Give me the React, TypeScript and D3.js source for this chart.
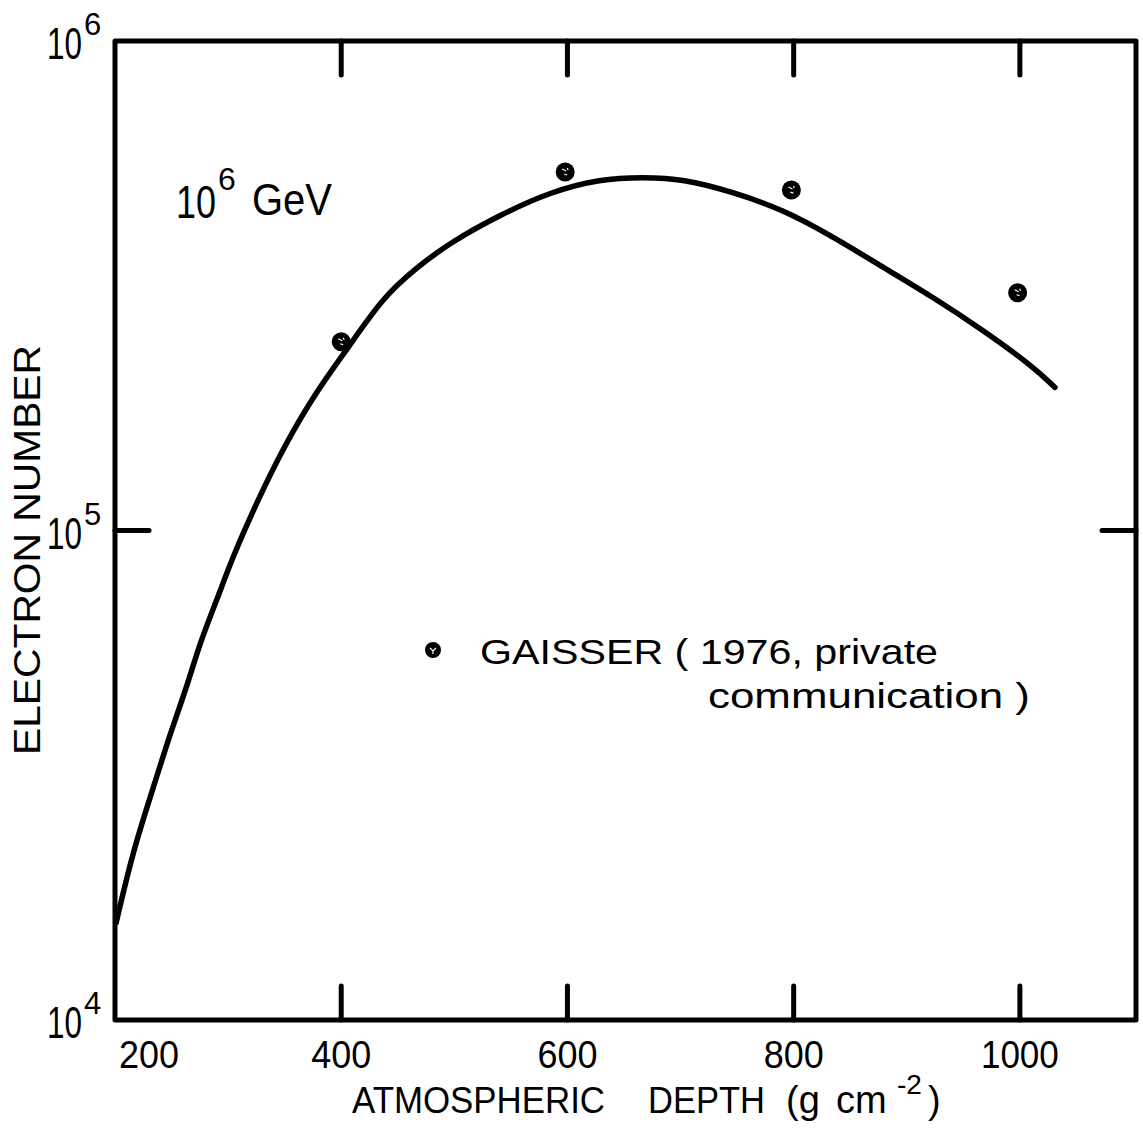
import React from "react";
import * as d3 from "d3";

// Curve: atmospheric depth (g cm^-2) vs electron number
const curveDepth = [201, 216, 234, 249, 264, 275, 290, 304, 326, 349, 379, 405, 437, 467, 496, 540, 585, 629, 667, 702, 746, 791, 835, 879, 923, 967, 1012, 1031];
const curveN = [1.58e4, 2.22e4, 2.99e4, 3.86e4, 4.83e4, 5.89e4, 7.21e4, 8.83e4, 1.15e5, 1.48e5, 1.94e5, 2.34e5, 3.0e5, 3.45e5, 3.87e5, 4.41e5, 4.92e5, 5.23e5, 5.27e5, 5.23e5, 4.92e5, 4.52e5, 3.98e5, 3.45e5, 3.0e5, 2.57e5, 2.16e5, 1.96e5];

// Gaisser points
const pointDepth = [400, 598, 798, 998];
const pointN = [2.43e5, 5.4e5, 4.96e5, 3.06e5];

const xTicks = [200, 400, 600, 800, 1000];
const xInnerTicks = [400, 600, 800, 1000];
const yTicks = [1e4, 1e5, 1e6];
const yTickExp = ["4", "5", "6"];

const FONT = "'Liberation Sans', Arial, sans-serif";

export default function App() {
  const W = 1143, H = 1128;
  const x = d3.scaleLinear().domain([200, 1100]).range([115, 1133]);
  const y = d3.scaleLog().domain([1e4, 1e6]).range([1020, 41]);
  const x0 = x(200), x1 = 1136, yTop = y(1e6), yBot = y(1e4);

  const data = curveDepth.map((d, i) => [d, curveN[i]] as [number, number]);
  const line = d3
    .line<[number, number]>()
    .x((d) => x(d[0]))
    .y((d) => y(d[1]))
    .curve(d3.curveBasis);

  const sw = 5;
  const tickLen = 34;

  return (
    <svg width={W} height={H} style={{ position: "absolute", left: 0, top: 0, background: "#fff" }}>
      <rect x={0} y={0} width={W} height={H} fill="#fff" />
      {/* frame */}
      <path
        d={`M${x0},${yTop} L${x1},${yTop} L${x1},${yBot} L${x0},${yBot} Z`}
        fill="none"
        stroke="#000"
        strokeWidth={sw}
        strokeLinejoin="round"
      />
      {/* x ticks top & bottom */}
      {xInnerTicks.map((t) => (
        <g key={"xt" + t}>
          <line x1={x(t)} x2={x(t)} y1={yTop} y2={yTop + tickLen} stroke="#000" strokeWidth={sw} strokeLinecap="round" />
          <line x1={x(t)} x2={x(t)} y1={yBot} y2={yBot - tickLen} stroke="#000" strokeWidth={sw} strokeLinecap="round" />
        </g>
      ))}
      {/* y tick at 1e5 both sides */}
      <line x1={x0} x2={x0 + tickLen} y1={y(1e5)} y2={y(1e5)} stroke="#000" strokeWidth={sw} strokeLinecap="round" />
      <line x1={x1} x2={x1 - tickLen} y1={y(1e5)} y2={y(1e5)} stroke="#000" strokeWidth={sw} strokeLinecap="round" />

      {/* x tick labels */}
      {xTicks.map((t, i) => (
        <text
          key={"xl" + t}
          x={i === 0 ? x(t) + 34 : x(t)}
          y={1068}
          fontFamily={FONT}
          fontSize={39}
          textAnchor="middle"
          textLength={t >= 1000 ? 78 : 60}
          lengthAdjust="spacingAndGlyphs"
        >
          {t}
        </text>
      ))}

      {/* y tick labels */}
      {yTicks.map((t, i) => (
        <text key={"yl" + i} x={47} y={y(t) + 18} fontFamily={FONT} fontSize={44}>
          <tspan textLength={35} lengthAdjust="spacingAndGlyphs">10</tspan>
          <tspan dx={2} dy={-24} fontSize={31}>{yTickExp[i]}</tspan>
        </text>
      ))}

      {/* axis title */}
      <text x={352} y={1113} fontFamily={FONT} fontSize={36}>
        <tspan x={352} textLength={253} lengthAdjust="spacingAndGlyphs">ATMOSPHERIC</tspan>
        <tspan x={648} textLength={117} lengthAdjust="spacingAndGlyphs">DEPTH</tspan>
        <tspan x={786} fontSize={38}>(g</tspan>
        <tspan x={836} fontSize={38}>cm</tspan>
        <tspan x={897} dy={-19} fontSize={28}>-2</tspan>
        <tspan x={928} dy={19} fontSize={38}>)</tspan>
      </text>

      <text
        transform="translate(40,755) rotate(-90)"
        x={0}
        y={0}
        fontFamily={FONT}
        fontSize={36}
        textLength={410}
        lengthAdjust="spacingAndGlyphs"
      >
        ELECTRON NUMBER
      </text>

      {/* energy annotation */}
      <text x={176} y={218} fontFamily={FONT} fontSize={46}>
        <tspan textLength={40} lengthAdjust="spacingAndGlyphs">10</tspan>
        <tspan dx={2} dy={-28} fontSize={32}>6</tspan>
        <tspan x={252} dy={25} fontSize={44} textLength={80} lengthAdjust="spacingAndGlyphs">GeV</tspan>
      </text>

      {/* curve */}
      <path d={line(data) || ""} fill="none" stroke="#000" strokeWidth={5.5} strokeLinecap="round" strokeLinejoin="round" />

      {/* points */}
      {pointDepth.map((d, i) => (
        <g key={"p" + i} transform={`translate(${x(d)},${y(pointN[i])})`}>
          <circle r={9.5} fill="#000" />
          <path d="M-3,-3 L1,-1 M-1,2 L2,3 M2,-4 L3,-2" stroke="#fff" strokeWidth={1.2} fill="none" />
        </g>
      ))}

      {/* legend */}
      <g transform="translate(433,650)">
        <circle r={8} fill="#000" />
        <path d="M-3,-2 L0,1 L3,-2 M0,1 L0,4" stroke="#fff" strokeWidth={1.2} fill="none" />
      </g>
      <text x={480} y={664} fontFamily={FONT} fontSize={35} textLength={458} lengthAdjust="spacingAndGlyphs">
        GAISSER ( 1976, private
      </text>
      <text x={708} y={708} fontFamily={FONT} fontSize={35} textLength={322} lengthAdjust="spacingAndGlyphs">
        communication )
      </text>
    </svg>
  );
}
